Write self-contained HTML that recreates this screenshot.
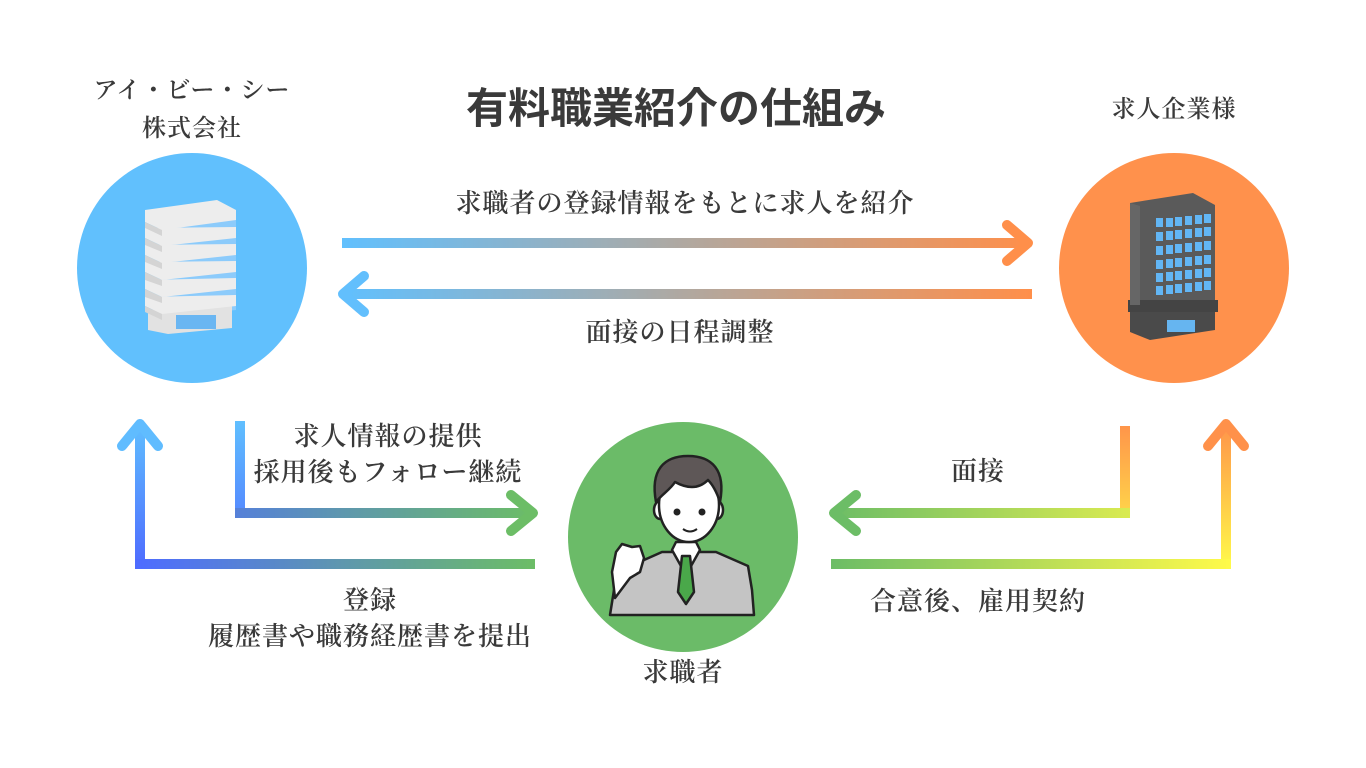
<!DOCTYPE html>
<html><head><meta charset="utf-8"><style>
html,body{margin:0;padding:0;background:#fff;}
body{width:1366px;height:768px;position:relative;overflow:hidden;}
.t{position:absolute;font-family:"Liberation Serif","Noto Serif CJK SC",serif;color:#3a3a3a;font-size:26px;font-weight:600;line-height:36px;text-align:center;white-space:nowrap;letter-spacing:1px;}
.h{position:absolute;font-family:"Liberation Sans","Noto Sans CJK JP",sans-serif;font-weight:bold;color:#3a3a3a;font-size:42px;line-height:50px;white-space:nowrap;}
</style></head><body>
<svg width="1366" height="768" style="position:absolute;left:0;top:0">
<defs>
<linearGradient id="gTop" x1="338" y1="0" x2="1032" y2="0" gradientUnits="userSpaceOnUse"><stop offset="0" stop-color="#60c0ff"/><stop offset="0.5" stop-color="#b0a8a0"/><stop offset="1" stop-color="#ff8f4a"/></linearGradient>
<linearGradient id="gLV" x1="0" y1="420" x2="0" y2="565" gradientUnits="userSpaceOnUse"><stop offset="0" stop-color="#60c0ff"/><stop offset="1" stop-color="#4e6cff"/></linearGradient>
<linearGradient id="gLH" x1="140" y1="0" x2="535" y2="0" gradientUnits="userSpaceOnUse"><stop offset="0" stop-color="#4e6cff"/><stop offset="0.55" stop-color="#5f9aa8"/><stop offset="1" stop-color="#6cbd66"/></linearGradient>
<linearGradient id="gRV" x1="0" y1="420" x2="0" y2="565" gradientUnits="userSpaceOnUse"><stop offset="0" stop-color="#ff914a"/><stop offset="1" stop-color="#fff84a"/></linearGradient>
<linearGradient id="gRH" x1="832" y1="0" x2="1230" y2="0" gradientUnits="userSpaceOnUse"><stop offset="0" stop-color="#6cbd66"/><stop offset="1" stop-color="#fffa4a"/></linearGradient>
</defs>
<circle cx="192" cy="268" r="115" fill="#61c0fd"/>
<circle cx="1174" cy="268" r="115" fill="#ff914c"/>
<circle cx="683" cy="537" r="115" fill="#6bbb68"/>
<g fill="none" stroke-width="10">
<line x1="342" y1="243" x2="1028" y2="243" stroke="url(#gTop)"/>
<polyline points="1007,225 1028,243 1007,261" stroke="#ff8f4a" stroke-linecap="round" stroke-linejoin="round"/>
<line x1="1032" y1="294" x2="343" y2="294" stroke="url(#gTop)"/>
<polyline points="364,276 343,294 364,312" stroke="#62bffd" stroke-linecap="round" stroke-linejoin="round"/>
<line x1="240" y1="421" x2="240" y2="513" stroke="url(#gLV)"/>
<line x1="235" y1="513" x2="533" y2="513" stroke="url(#gLH)"/>
<polyline points="511,495 533,513 511,531" stroke="#6cbd66" stroke-linecap="round" stroke-linejoin="round"/>
<line x1="140" y1="424" x2="140" y2="565" stroke="url(#gLV)"/>
<line x1="135" y1="564" x2="535" y2="564" stroke="url(#gLH)"/>
<polyline points="122,446 140,424 158,446" stroke="#60bcff" stroke-linecap="round" stroke-linejoin="round"/>
<line x1="1125" y1="426" x2="1125" y2="518" stroke="url(#gRV)"/>
<line x1="1130" y1="513" x2="834" y2="513" stroke="url(#gRH)"/>
<polyline points="856,495 834,513 856,531" stroke="#6cbd66" stroke-linecap="round" stroke-linejoin="round"/>
<line x1="1226" y1="424" x2="1226" y2="569" stroke="url(#gRV)"/>
<line x1="831" y1="564" x2="1231" y2="564" stroke="url(#gRH)"/>
<polyline points="1208,446 1226,424 1244,446" stroke="#ff914a" stroke-linecap="round" stroke-linejoin="round"/>
</g>
<!-- left building -->
<g>
<polygon points="160,215 236,210 236,310 160,318" fill="#8ccbfb"/>
<polygon points="148,310 232,305 232,328 168,334 148,330" fill="#e2e2e2"/>
<rect x="176" y="315" width="40" height="14" fill="#6ab6f2"/>
<g fill="#ededed">
<polygon points="145,210 217,200 236,210 236,220 162,230 145,222"/>
<polygon points="145,228 236,227 236,238 162,246 145,238"/>
<polygon points="145,245 236,244 236,255 162,263 145,255"/>
<polygon points="145,262 236,261 236,272 162,280 145,272"/>
<polygon points="145,280 236,278 236,289 162,297 145,289"/>
<polygon points="145,297 236,295 236,306 162,314 145,306"/>
</g>
<g fill="#d4d4d4">
<polygon points="145,222 162,230 162,236 145,228"/><polygon points="145,238 162,246 162,252 145,245"/><polygon points="145,255 162,263 162,269 145,262"/><polygon points="145,272 162,280 162,286 145,280"/><polygon points="145,289 162,297 162,303 145,297"/><polygon points="145,306 162,314 162,320 145,312"/>
</g>
</g>
<!-- right building -->
<g>
<polygon points="1130,203 1193,193 1215,205 1215,305 1130,305" fill="#5a5a5a"/>
<rect x="1128" y="300" width="90" height="12" fill="#444"/>
<polygon points="1130,312 1215,312 1215,330 1150,340 1130,332" fill="#4a4a4a"/>
<rect x="1167" y="320" width="28" height="12" fill="#66b5f0"/>
</g>
<g fill="#62b6f5">
<rect x="1156" y="218" width="7" height="9"/><rect x="1166" y="218" width="7" height="9"/><rect x="1175" y="217" width="7" height="9"/><rect x="1185" y="216" width="7" height="9"/><rect x="1195" y="215" width="7" height="9"/><rect x="1204" y="214" width="7" height="9"/>
<rect x="1156" y="232" width="7" height="9"/><rect x="1166" y="231" width="7" height="9"/><rect x="1175" y="230" width="7" height="9"/><rect x="1185" y="229" width="7" height="9"/><rect x="1195" y="228" width="7" height="9"/><rect x="1204" y="227" width="7" height="9"/>
<rect x="1156" y="246" width="7" height="9"/><rect x="1166" y="245" width="7" height="9"/><rect x="1175" y="244" width="7" height="9"/><rect x="1185" y="243" width="7" height="9"/><rect x="1195" y="242" width="7" height="9"/><rect x="1204" y="241" width="7" height="9"/>
<rect x="1156" y="260" width="7" height="9"/><rect x="1166" y="259" width="7" height="9"/><rect x="1175" y="258" width="7" height="9"/><rect x="1185" y="257" width="7" height="9"/><rect x="1195" y="256" width="7" height="9"/><rect x="1204" y="255" width="7" height="9"/>
<rect x="1156" y="273" width="7" height="9"/><rect x="1166" y="272" width="7" height="9"/><rect x="1175" y="271" width="7" height="9"/><rect x="1185" y="270" width="7" height="9"/><rect x="1195" y="269" width="7" height="9"/><rect x="1204" y="268" width="7" height="9"/>
<rect x="1156" y="286" width="7" height="9"/><rect x="1166" y="285" width="7" height="9"/><rect x="1175" y="284" width="7" height="9"/><rect x="1185" y="283" width="7" height="9"/><rect x="1195" y="282" width="7" height="9"/><rect x="1204" y="281" width="7" height="9"/>
</g>
<polygon points="1130,203 1140,206 1140,305 1130,305" fill="#666"/>
<!-- person -->
<g stroke="#222" stroke-width="2.5" stroke-linejoin="round">
<path d="M610,615 L614,590 L626,568 L662,552 L716,552 L748,566 L752,590 L754,615 Z" fill="#c4c4c4"/>
<path d="M672,550 L686,575 L700,550 L696,542 L676,542 Z" fill="#fff"/>
<path d="M682,556 L690,556 L694,592 L686,604 L678,592 Z" fill="#4aa84a"/>
<path d="M615,598 L612,572 L616,552 L622,544 L632,547 L640,546 L644,558 L640,572 L630,578 Z" fill="#fff"/>
<ellipse cx="660" cy="510" rx="6" ry="9" fill="#fff"/>
<ellipse cx="717" cy="510" rx="6" ry="9" fill="#fff"/>
<ellipse cx="689" cy="505" rx="30" ry="37" fill="#fff"/>
<path d="M656,502 C650,470 664,456 688,456 C712,456 726,470 720,502 C716,490 712,484 708,480 C698,490 686,488 675,482 C670,490 662,494 656,502 Z" fill="#5e5757"/>
</g>
<circle cx="677" cy="512" r="3.5" fill="#222"/><circle cx="702" cy="512" r="3.5" fill="#222"/>
<path d="M683,529 q7,5 14,0" stroke="#222" stroke-width="2" fill="none"/>
</svg>
<div class="h" style="left:466px;top:84px;">有料職業紹介の仕組み</div>
<div class="t" style="left:62px;top:72px;width:260px;line-height:38px;font-size:24px;">アイ・ビー・シー<br>株式会社</div>
<div class="t" style="left:1044px;top:92px;width:260px;font-size:24px;">求人企業様</div>
<div class="t" style="left:330px;top:186px;width:710px;">求職者の登録情報をもとに求人を紹介</div>
<div class="t" style="left:480px;top:315px;width:400px;">面接の日程調整</div>
<div class="t" style="left:228px;top:419px;width:320px;">求人情報の提供<br>採用後もフォロー継続</div>
<div class="t" style="left:190px;top:583px;width:360px;">登録<br>履歴書や職務経歴書を提出</div>
<div class="t" style="left:583px;top:655px;width:200px;">求職者</div>
<div class="t" style="left:878px;top:454px;width:200px;">面接</div>
<div class="t" style="left:838px;top:584px;width:280px;">合意後、雇用契約</div>
</body></html>
